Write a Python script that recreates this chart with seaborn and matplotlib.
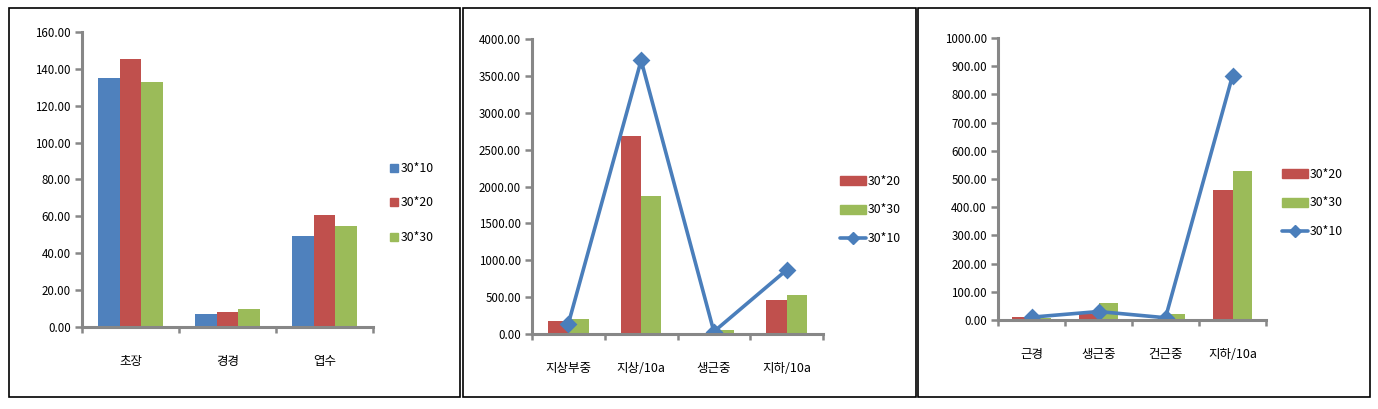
import numpy as np
import pandas as pd
import matplotlib
matplotlib.use("Agg")
import matplotlib.pyplot as plt
from matplotlib.patches import Rectangle, Patch
from matplotlib.lines import Line2D
import seaborn as sns

# ---- data ----
p1_cats = ['초장', '경경', '엽수']
p1_s10 = [135.0, 7.0, 49.5]
p1_s20 = [145.5, 8.0, 61.0]
p1_s30 = [133.0, 9.5, 55.0]

p2_cats = ['지상부중', '지상/10a', '생근중', '지하/10a']
p2_s20 = [172.0, 2680.0, 20.0, 458.0]
p2_s30 = [208.0, 1871.0, 59.0, 529.0]
p2_s10 = [140.0, 3710.0, 32.0, 868.0]

p3_cats = ['근경', '생근중', '건근중', '지하/10a']
p3_s20 = [10.0, 20.0, 5.0, 460.0]
p3_s30 = [8.0, 59.0, 21.0, 530.0]
p3_s10 = [10.0, 30.0, 8.0, 866.0]

c_blue = '#4F81BD'
c_red = '#C0504D'
c_green = '#9BBB59'
c_line = '#4A7EBB'
c_axis = '#878787'

sns.set_style('white')
plt.rcParams['font.family'] = ['Noto Sans CJK KR', 'DejaVu Sans']
plt.rcParams['text.color'] = 'black'
plt.rcParams['xtick.color'] = 'black'
plt.rcParams['ytick.color'] = 'black'


def long_frame(cats, named):
    rows = []
    for name, vals in named:
        for c, v in zip(cats, vals):
            rows.append({'cat': c, 'val': v, 'series': name})
    return pd.DataFrame(rows)


def style_axis(ax, cats, ymax, ystep):
    n = len(cats)
    yt = np.arange(0, ymax + ystep / 2, ystep)
    ax.set_ylim(0, ymax)
    ax.set_yticks(yt)
    ax.set_yticklabels([f'{v:.2f}' for v in yt], fontsize=8.3)
    ax.set_xlim(-0.5, n - 0.5)
    ax.set_xticks(np.arange(-0.5, n, 1.0))
    ax.set_xticklabels([''] * (n + 1))
    ax.set_xticks(np.arange(n), minor=True)
    ax.set_xticklabels(cats, minor=True, fontsize=9)
    ax.tick_params(axis='x', which='minor', bottom=True, length=0, pad=20)
    ax.tick_params(axis='x', which='major', bottom=True, length=4, width=1.8,
                   color=c_axis, direction='out')
    ax.tick_params(axis='y', left=True, length=5, width=1.8, color=c_axis,
                   direction='out', pad=3)
    for s in ['top', 'right']:
        ax.spines[s].set_visible(False)
    for s in ['left', 'bottom']:
        ax.spines[s].set_color(c_axis)
        ax.spines[s].set_linewidth(2.2)
    ax.set_xlabel('')
    ax.set_ylabel('')
    ax.grid(False)


fig = plt.figure(figsize=(13.78, 4.09), dpi=100)

# panel frames
for x0, x1 in [(9, 460), (463, 916), (918, 1370)]:
    fig.add_artist(Rectangle((x0 / 1378, 12 / 409), (x1 - x0) / 1378, 389 / 409,
                             transform=fig.transFigure, fill=False, lw=1.2, ec='black'))

# ---- panel 1: grouped bars ----
ax1 = fig.add_axes([82 / 1378, 1 - 327 / 409, 291 / 1378, 295 / 409])
df1 = long_frame(p1_cats, [('30*10', p1_s10), ('30*20', p1_s20), ('30*30', p1_s30)])
sns.barplot(data=df1, x='cat', y='val', hue='series', palette=[c_blue, c_red, c_green],
            width=0.66, errorbar=None, saturation=1, linewidth=0, legend=False, ax=ax1)
style_axis(ax1, p1_cats, 160, 20)
h1 = [Patch(color=c_blue, label='30*10'), Patch(color=c_red, label='30*20'),
      Patch(color=c_green, label='30*30')]
ax1.legend(handles=h1, loc='center left', bbox_to_anchor=(390 / 1378, 1 - 203 / 409),
           bbox_transform=fig.transFigure, frameon=False, fontsize=8.8, handlelength=0.65,
           handleheight=0.65, handletextpad=0.2, labelspacing=1.75, borderpad=0, borderaxespad=0)


def bar_line_panel(rect, cats, s20, s30, s10, ymax, ystep, width, leg_xy):
    ax = fig.add_axes(rect)
    df = long_frame(cats, [('30*20', s20), ('30*30', s30)])
    sns.barplot(data=df, x='cat', y='val', hue='series', palette=[c_red, c_green],
                width=width, errorbar=None, saturation=1, linewidth=0, legend=False, ax=ax)
    sns.pointplot(x=cats, y=s10, color=c_line, markers='D', errorbar=None,
                  markersize=7, linewidth=2.6, ax=ax)
    style_axis(ax, cats, ymax, ystep)
    hs = [Patch(color=c_red, label='30*20'), Patch(color=c_green, label='30*30'),
          Line2D([], [], color=c_line, lw=2.6, marker='D', markersize=6, label='30*10')]
    ax.legend(handles=hs, loc='center left', bbox_to_anchor=leg_xy,
              bbox_transform=fig.transFigure, frameon=False, fontsize=8.8, handlelength=2.1,
              handleheight=0.8, handletextpad=0.2, labelspacing=1.3, borderpad=0, borderaxespad=0)
    return ax


# ---- panel 2 ----
bar_line_panel([532 / 1378, 1 - 334 / 409, 291 / 1378, 295 / 409],
               p2_cats, p2_s20, p2_s30, p2_s10, 4000, 500, 0.56,
               (840 / 1378, 1 - 210 / 409))

# ---- panel 3 ----
bar_line_panel([998 / 1378, 1 - 320 / 409, 268 / 1378, 282 / 409],
               p3_cats, p3_s20, p3_s30, p3_s10, 1000, 100, 0.57,
               (1282 / 1378, 1 - 203 / 409))

fig.savefig('out.png', dpi=100)
